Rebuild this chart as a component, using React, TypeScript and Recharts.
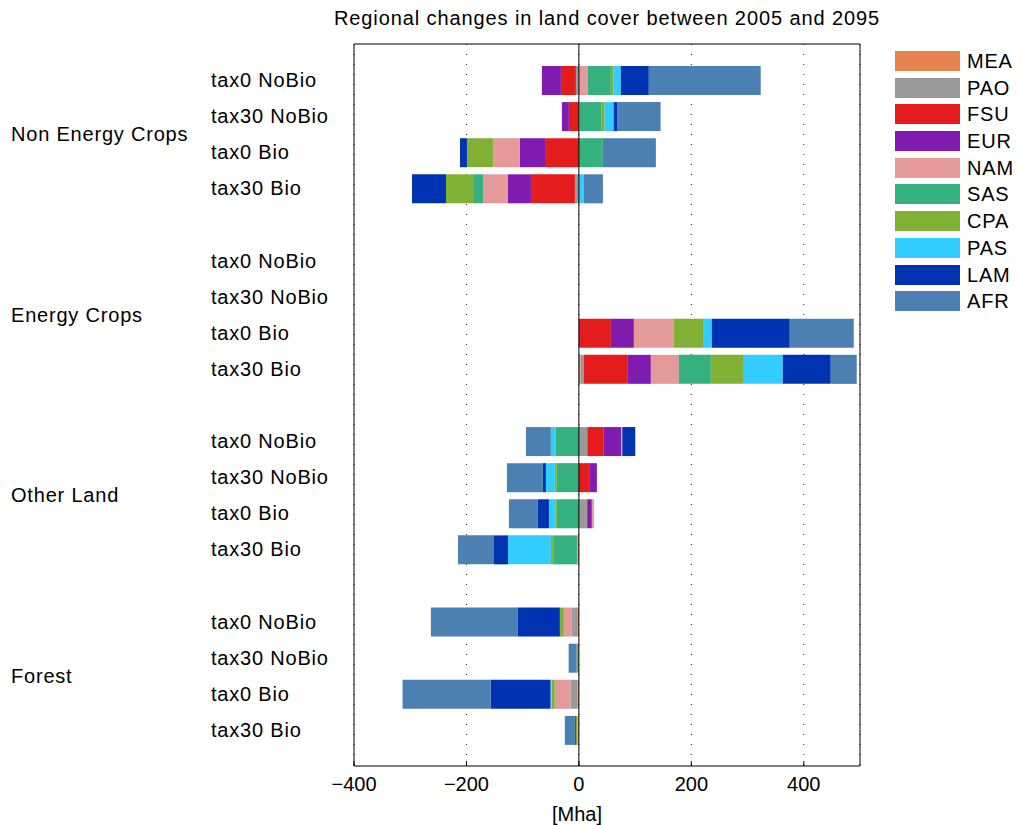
import React from "react";
import { BarChart, Bar, XAxis, YAxis, CartesianGrid, ReferenceLine } from "recharts";

// group / scenario labels
const groups = ["Non Energy Crops", "Energy Crops", "Other Land", "Forest"];
const scenarios = ["tax0 NoBio", "tax30 NoBio", "tax0 Bio", "tax30 Bio"];
const regions = ["MEA", "PAO", "FSU", "EUR", "NAM", "SAS", "CPA", "PAS", "LAM", "AFR"];
const colors = ["#E8834F", "#9A9A9A", "#E51C1C", "#801BB0", "#E59A9A", "#34B17F", "#81B134", "#33CCFF", "#0033B2", "#4C7FB2"];
const xTicks = [-400, -200, 0, 200, 400];

// values in Mha, 16 entries each: 4 groups x 4 scenarios (group-major)
const MEA = [0, 1.5, 0, 0, 0, 0, 0, 3, 0, 0, 0, -1.5, -1.8, 0, -2.5, 0];
const PAO = [-5.3, 0, 0, -7.1, 0, 0, 0, 5.9, 15, 0, 14.2, 0, -10.7, 0, -12.4, 0];
const FSU = [-26.7, -17.8, -58.7, -78.2, 0, 0, 56.9, 78.2, 28.4, 19.6, 1.8, 0, 0, 0, 0, 0];
const EUR = [-33.8, -12.4, -46.2, -40.9, 0, 0, 40.9, 40.9, 32, 12.4, 7.1, 0, 0, 0, 0, 0];
const NAM = [16, 0, -48, -44.4, 0, 0, 71.1, 49.8, 1.8, 0, 3.6, -2, -14.2, 0, -26.7, -2.4];
const SAS = [40.9, 39, 42.7, -16, 0, 0, 0, 56.9, -40.9, -39.1, -39.1, -40.9, 0, 0, -1.8, 0];
const CPA = [4.7, 5.3, -46.2, -49.8, 0, 0, 53.3, 58.7, 0, -3.6, -1.8, -5.3, -7.1, -4, -5.3, -3];
const PAS = [13, 16, 0, 8.9, 0, 0, 14.2, 69.3, -8.9, -16, -12.4, -76.4, 0, 0, -1.8, 0];
const LAM = [49.8, 7.1, -12.4, -60.4, 0, 0, 138.7, 85.3, 23.1, -5.3, -19.6, -24.9, -74.7, 0, -106.7, -1.8];
const AFR = [199, 76.4, 94.2, 33.8, 0, 0, 113.8, 46.2, -44.4, -64, -51.6, -64, -154.7, -14.2, -156.4, -17.8];

const series: Record<string, number[]> = { MEA, PAO, FSU, EUR, NAM, SAS, CPA, PAS, LAM, AFR };

// rows top to bottom, with an empty row between groups
const rows: any[] = [];
groups.forEach((g, gi) => {
  if (gi > 0) rows.push({ id: `gap${gi}` });
  scenarios.forEach((s, si) => {
    const row: any = { id: `${gi}-${si}`, label: s, group: si === 1 ? g : undefined };
    regions.forEach((r) => (row[r] = series[r][gi * 4 + si]));
    rows.push(row);
  });
});

const FONT = "'Liberation Sans', Arial, Helvetica, sans-serif";
const FS = 20;
const LS = 0.8;

const fmt = (v: number) => (v < 0 ? `\u2212${Math.abs(v)}` : String(v));

function YTick(props: any) {
  const { y, payload } = props;
  const row = rows[payload.index];
  if (!row || !row.label) return <g />;
  return (
    <g>
      <text x={203} y={y} dy={7} fontSize={FS} letterSpacing={LS} fill="#000" textAnchor="start">
        {row.label}
      </text>
      {row.group && (
        <text x={3} y={y + 18} dy={7} fontSize={FS} letterSpacing={LS} fill="#000" textAnchor="start">
          {row.group}
        </text>
      )}
    </g>
  );
}

export default function App() {
  return (
    <div style={{ position: "relative", width: 1005, height: 817, fontFamily: FONT, background: "#fff" }}>
      <div
        style={{
          position: "absolute", left: 599, top: 0, transform: "translateX(-50%)",
          fontSize: FS, lineHeight: "20px", letterSpacing: 0.9, color: "#000", whiteSpace: "nowrap",
        }}
      >
        Regional changes in land cover between 2005 and 2095
      </div>
      <BarChart
        width={1005}
        height={817}
        data={rows}
        layout="vertical"
        stackOffset="sign"
        barSize={29}
        margin={{ top: 35, right: 152, bottom: 29, left: 146 }}
        style={{ fontFamily: FONT }}
      >
        <CartesianGrid horizontal={false} stroke="#222" strokeDasharray="1 9" />
        <XAxis
          type="number"
          domain={[-400, 500]}
          ticks={xTicks}
          tickFormatter={fmt}
          height={30}
          tickSize={-5}
          tickMargin={16}
          axisLine={{ stroke: "#000" }}
          tickLine={{ stroke: "#000" }}
          tick={{ fill: "#000", fontSize: FS }}
          label={{ value: "[Mha]", position: "bottom", offset: 11, dx: -30, fill: "#000", fontSize: FS }}
        />
        <XAxis
          xAxisId="top"
          orientation="top"
          type="number"
          domain={[-400, 500]}
          ticks={xTicks}
          height={1}
          tickSize={-5}
          tick={false}
          axisLine={{ stroke: "#000" }}
          tickLine={{ stroke: "#000" }}
        />
        <YAxis
          type="category"
          dataKey="id"
          width={200}
          interval={0}
          padding={{ top: 18, bottom: 18 }}
          axisLine={{ stroke: "#000" }}
          tickLine={false}
          tick={<YTick />}
        />
        <YAxis
          yAxisId="right"
          orientation="right"
          type="category"
          dataKey="id"
          width={1}
          axisLine={{ stroke: "#000" }}
          tickLine={false}
          tick={false}
        />
        {regions.map((r, i) => (
          <Bar key={r} dataKey={r} stackId="a" fill={colors[i]} isAnimationActive={false} />
        ))}
        <ReferenceLine x={0} stroke="#000" strokeWidth={1} />
      </BarChart>
      <div style={{ position: "absolute", left: 887, top: 43 }}>
        {regions.map((r, i) => (
          <div key={r} style={{ display: "flex", alignItems: "center", height: 20, marginBottom: 6.7 }}>
            <div style={{ width: 65, height: 20, background: colors[i] }} />
            <span style={{ marginLeft: 7, fontSize: FS, letterSpacing: LS, color: "#000", lineHeight: "20px" }}>{r}</span>
          </div>
        ))}
      </div>
    </div>
  );
}
